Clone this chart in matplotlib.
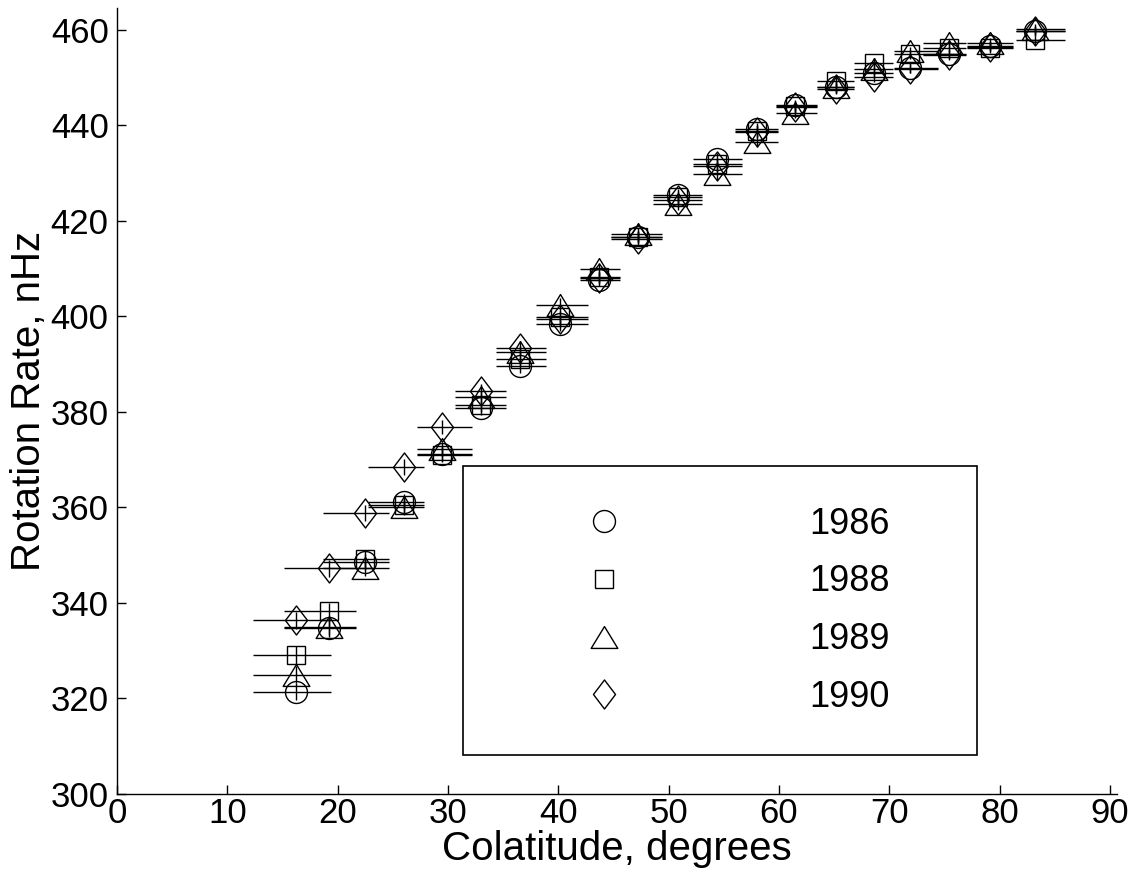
import numpy as np
import matplotlib
matplotlib.use("Agg")
import matplotlib.pyplot as plt
from matplotlib.path import Path

plt.rcParams['font.family'] = ['Liberation Sans', 'DejaVu Sans']

# colatitude of each bin (degrees) and the bin edges drawn as horizontal bars
colat = [16.25, 19.2, 22.5, 26.0, 29.5, 33.0, 36.55, 40.2, 43.7, 47.2,
         50.85, 54.4, 58.0, 61.5, 65.15, 68.6, 71.9, 75.4, 79.1, 83.2]
bin_lo = [12.3, 15.1, 18.7, 22.75, 27.2, 30.6, 34.4, 38.0, 42.0, 44.8,
          48.6, 52.2, 56.0, 59.7, 63.5, 66.8, 70.4, 73.1, 77.05, 81.5]
bin_hi = [19.4, 21.7, 24.7, 27.8, 32.2, 35.3, 38.9, 42.7, 45.6, 49.4,
          53.0, 56.7, 59.9, 63.5, 66.8, 70.3, 74.4, 77.0, 81.2, 85.9]
rate_err = [1.8, 1.8, 1.7, 1.6, 1.5, 1.5, 1.4, 1.4, 1.3, 1.3,
            1.2, 1.2, 1.2, 1.1, 1.1, 1.1, 1.0, 1.0, 1.0, 1.0]

rate_1986 = [321.4, 334.7, 348.6, 361.2, 371.3, 380.8, 389.6, 398.4, 407.6, 416.7,
             425.5, 433.0, 439.3, 444.3, 448.0, 451.0, 452.0, 455.0, 456.6, 459.8]
rate_1988 = [329.1, 338.3, 349.3, 360.6, 371.0, 381.5, 391.0, 399.8, 408.3, 416.6,
             425.0, 432.0, 438.8, 444.0, 449.4, 453.0, 454.9, 456.3, 456.2, 457.8]
rate_1989 = [325.0, 335.0, 347.3, 360.0, 372.3, 383.2, 392.5, 402.4, 409.9, 417.2,
             423.6, 429.8, 436.6, 442.6, 448.0, 451.8, 455.5, 457.2, 457.3, 460.2]
rate_1990 = [336.4, 347.3, 358.8, 368.5, 376.8, 384.3, 393.4, 399.5, 408.0, 416.3,
             424.4, 431.5, 438.6, 443.8, 447.6, 450.1, 451.9, 454.8, 456.5, 459.7]

years = ['1986', '1988', '1989', '1990']
rates = [rate_1986, rate_1988, rate_1989, rate_1990]

# matlab-ish marker shapes
tri = Path([(0, 0.82), (-1, -0.82), (1, -0.82), (0, 0.82)],
           [Path.MOVETO, Path.LINETO, Path.LINETO, Path.CLOSEPOLY])
dia = Path([(0, 1), (0.76, 0), (0, -1), (-0.76, 0), (0, 1)],
           [Path.MOVETO, Path.LINETO, Path.LINETO, Path.LINETO, Path.CLOSEPOLY])
markers = ['o', 's', tri, dia]
msizes = [15.8, 12.7, 19.2, 20.9]

fig = plt.figure(figsize=(11.36, 8.8), dpi=100)
ax = fig.add_axes([117/1136, 86/880, 1000/1136, 786/880])

x = np.array(colat)
xerr = np.array([x - np.array(bin_lo), np.array(bin_hi) - x])

handles = []
for yr, r, m, ms in zip(years, rates, markers, msizes):
    ax.errorbar(x, r, xerr=xerr, yerr=rate_err, fmt='none',
                ecolor='k', elinewidth=1.0, capsize=0)
    h, = ax.plot(x, r, linestyle='none', marker=m, markersize=ms,
                 markerfacecolor='none', markeredgecolor='k',
                 markeredgewidth=1.0, label=yr)
    handles.append(h)

ax.set_xlim(0, 90.65)
ax.set_ylim(300, 464.6)
ax.set_xticks(np.arange(0, 91, 10))
ax.set_yticks(np.arange(300, 461, 20))

for s in ['top', 'right']:
    ax.spines[s].set_visible(False)
for s in ['left', 'bottom']:
    ax.spines[s].set_linewidth(1.0)

ax.tick_params(direction='in', length=6.5, width=1.0, labelsize=25)
ax.tick_params(axis='y', pad=6)
ax.tick_params(axis='x', pad=2)

ax.set_xlabel('Colatitude, degrees', fontsize=29, labelpad=0)
ax.set_ylabel('Rotation Rate, nHz', fontsize=29, labelpad=2)

leg = ax.legend(handles=handles, loc='upper left',
                bbox_to_anchor=(0.346, 0.417, 0.514, 0), mode='expand',
                borderaxespad=0, fontsize=26, numpoints=1,
                handlelength=5.58, handletextpad=2.9, borderpad=1.12,
                labelspacing=0.63, fancybox=False, framealpha=1)
leg.get_frame().set_edgecolor('k')
leg.get_frame().set_linewidth(1.2)

fig.savefig('out.png', dpi=100)
